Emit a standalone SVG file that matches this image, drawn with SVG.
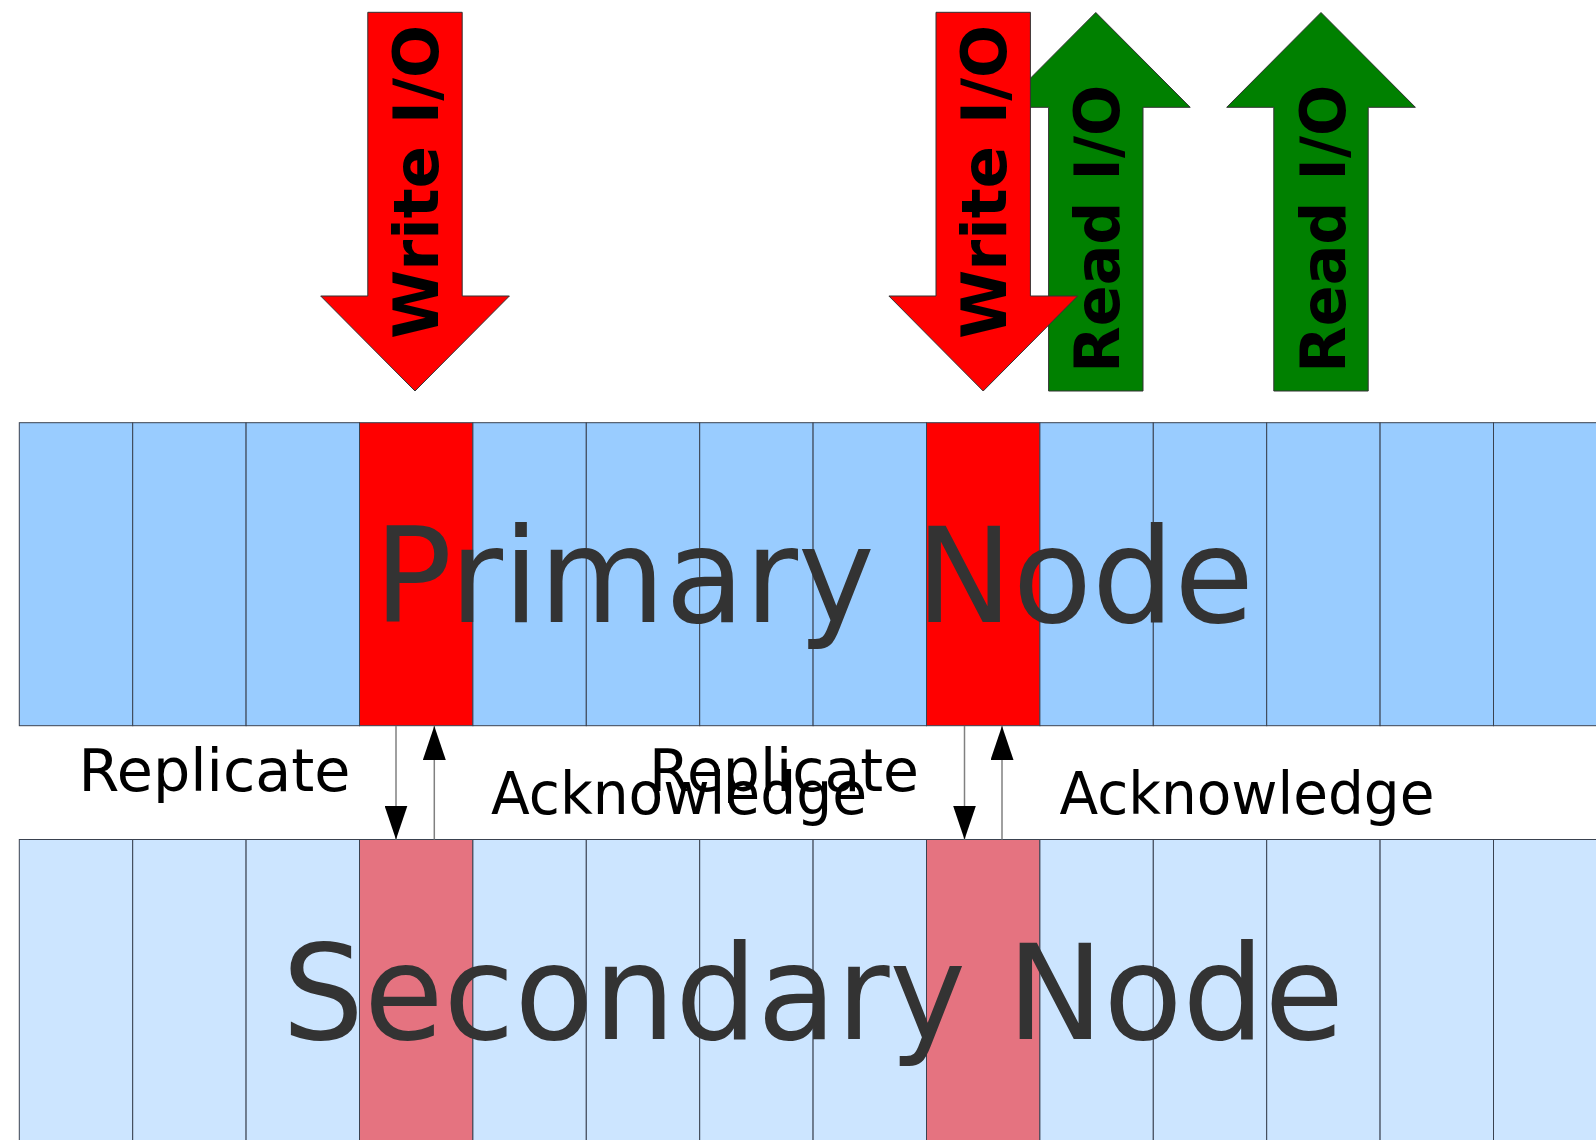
<svg xmlns="http://www.w3.org/2000/svg" width="1596" height="1140" viewBox="0 0 1596 1140">
<style>
.p{fill:#99ccff;stroke:#3a4250;stroke-width:1}
.pr{fill:#ff0000;stroke:#3a4250;stroke-width:1}
.s{fill:#cce5ff;stroke:#3a4250;stroke-width:1}
.sr{fill:#e57380;stroke:#3a4250;stroke-width:1}
.big{font-family:"DejaVu Sans",sans-serif;font-size:132px;fill:#333333}
.lbl{font-family:"DejaVu Sans",sans-serif;font-size:58px;fill:#000000}
.io{font-family:"DejaVu Sans",sans-serif;font-size:62px;font-weight:bold;fill:#000000}
.wa{fill:#ff0000;stroke:#333333;stroke-width:1}
.ra{fill:#008000;stroke:#333333;stroke-width:1}
.cn{stroke:#808080;stroke-width:1.5;fill:none}
</style>
<defs>
<marker id="ah" markerUnits="userSpaceOnUse" markerWidth="34" markerHeight="23" viewBox="0 0 34 23" refX="34" refY="11.5" orient="auto">
<path d="M0,0 L34,11.5 L0,23 z" fill="#000000"/>
</marker>
</defs>
<rect width="1596" height="1140" fill="#ffffff"/>
<g id="primary-node">
<rect class="p" x="19.3" y="422.7" width="113.4" height="303"/>
<rect class="p" x="132.7" y="422.7" width="113.4" height="303"/>
<rect class="p" x="246.1" y="422.7" width="113.4" height="303"/>
<rect class="pr" x="359.5" y="422.7" width="113.4" height="303"/>
<rect class="p" x="472.9" y="422.7" width="113.4" height="303"/>
<rect class="p" x="586.3" y="422.7" width="113.4" height="303"/>
<rect class="p" x="699.7" y="422.7" width="113.4" height="303"/>
<rect class="p" x="813.1" y="422.7" width="113.4" height="303"/>
<rect class="pr" x="926.5" y="422.7" width="113.4" height="303"/>
<rect class="p" x="1039.9" y="422.7" width="113.4" height="303"/>
<rect class="p" x="1153.3" y="422.7" width="113.4" height="303"/>
<rect class="p" x="1266.7" y="422.7" width="113.4" height="303"/>
<rect class="p" x="1380.1" y="422.7" width="113.4" height="303"/>
<rect class="p" x="1493.5" y="422.7" width="113.4" height="303"/>
<text class="big" x="374" y="621.7" textLength="880" lengthAdjust="spacingAndGlyphs">Primary Node</text>
</g>
<g id="secondary-node">
<rect class="s" x="19.3" y="839.5" width="113.4" height="310"/>
<rect class="s" x="132.7" y="839.5" width="113.4" height="310"/>
<rect class="s" x="246.1" y="839.5" width="113.4" height="310"/>
<rect class="sr" x="359.5" y="839.5" width="113.4" height="310"/>
<rect class="s" x="472.9" y="839.5" width="113.4" height="310"/>
<rect class="s" x="586.3" y="839.5" width="113.4" height="310"/>
<rect class="s" x="699.7" y="839.5" width="113.4" height="310"/>
<rect class="s" x="813.1" y="839.5" width="113.4" height="310"/>
<rect class="sr" x="926.5" y="839.5" width="113.4" height="310"/>
<rect class="s" x="1039.9" y="839.5" width="113.4" height="310"/>
<rect class="s" x="1153.3" y="839.5" width="113.4" height="310"/>
<rect class="s" x="1266.7" y="839.5" width="113.4" height="310"/>
<rect class="s" x="1380.1" y="839.5" width="113.4" height="310"/>
<rect class="s" x="1493.5" y="839.5" width="113.4" height="310"/>
<text class="big" x="282" y="1039.3" textLength="1062" lengthAdjust="spacingAndGlyphs">Secondary Node</text>
</g>
<g id="read-io-1">
<path class="ra" d="M1095.8,12.5 L1190.2,107.3 L1143,107.3 L1143,391 L1048.6,391 L1048.6,107.3 L1001.5,107.3 z"/>
<text class="io" transform="translate(1119,228.7) rotate(-90)" text-anchor="middle" textLength="288" lengthAdjust="spacingAndGlyphs">Read I/O</text>
</g>
<g id="read-io-2">
<path class="ra" d="M1321,12.5 L1415.4,107.3 L1368.2,107.3 L1368.2,391 L1273.8,391 L1273.8,107.3 L1226.7,107.3 z"/>
<text class="io" transform="translate(1344.6,228.7) rotate(-90)" text-anchor="middle" textLength="288" lengthAdjust="spacingAndGlyphs">Read I/O</text>
</g>
<g id="write-io-1">
<path class="wa" d="M367.8,12.3 L462.2,12.3 L462.2,296 L509.4,296 L415,391 L320.7,296 L367.8,296 z"/>
<text class="io" transform="translate(437.7,181.7) rotate(-90)" text-anchor="middle" textLength="314" lengthAdjust="spacingAndGlyphs">Write I/O</text>
</g>
<g id="write-io-2">
<path class="wa" d="M936,12.3 L1030.4,12.3 L1030.4,296 L1077.6,296 L983.2,391 L888.9,296 L936,296 z"/>
<text class="io" transform="translate(1005.9,181.7) rotate(-90)" text-anchor="middle" textLength="314" lengthAdjust="spacingAndGlyphs">Write I/O</text>
</g>
<g id="connectors">
<line class="cn" x1="396" y1="726" x2="396" y2="839.5" marker-end="url(#ah)"/>
<line class="cn" x1="434.3" y1="839.5" x2="434.3" y2="726" marker-end="url(#ah)"/>
<line class="cn" x1="964.5" y1="726" x2="964.5" y2="839.5" marker-end="url(#ah)"/>
<line class="cn" x1="1002" y1="839.5" x2="1002" y2="726" marker-end="url(#ah)"/>
<text class="lbl" x="78.5" y="790.7" textLength="272" lengthAdjust="spacingAndGlyphs">Replicate</text>
<text class="lbl" x="491" y="813.8" textLength="376" lengthAdjust="spacingAndGlyphs">Acknowledge</text>
<text class="lbl" x="649" y="790.7" textLength="270" lengthAdjust="spacingAndGlyphs">Replicate</text>
<text class="lbl" x="1059.5" y="813.8" textLength="375" lengthAdjust="spacingAndGlyphs">Acknowledge</text>
</g>
</svg>
